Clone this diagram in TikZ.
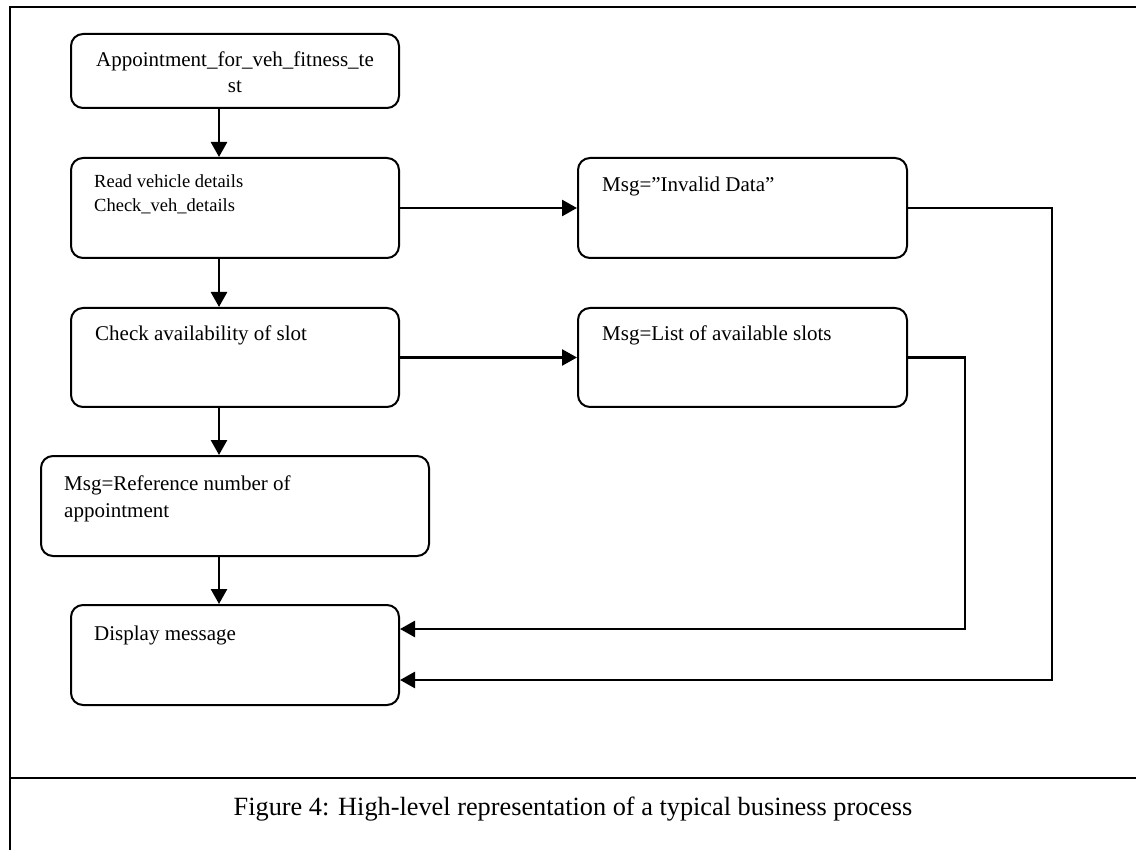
\documentclass[tikz,border=0pt]{standalone}
\usepackage{fontspec}
\setmainfont{Liberation Serif}
\usetikzlibrary{arrows.meta}
\begin{document}
\begin{tikzpicture}[x=1pt,y=-1pt,
  box/.style={draw,line width=2pt,rounded corners=12pt,anchor=north west,inner sep=0pt},
  txt/.style={anchor=base west,inner sep=0pt,font=\fontsize{21}{26}\selectfont},
  small/.style={anchor=base west,inner sep=0pt,font=\fontsize{18.5}{24}\selectfont},
  arr/.style={line width=2.6pt,-{Triangle[length=15pt,width=16pt]}}]
\useasboundingbox (0,0) rectangle (1136,850);
% frame
\draw[line width=2.2pt] (1136,7) -- (10,7) -- (10,850);
\draw[line width=2.2pt] (10,778) -- (1136,778);

% process boxes
\node[box,minimum width=328pt,minimum height=74pt] (A) at (70,33) {};
\node[box,minimum width=328pt,minimum height=100pt] (R) at (70,157) {};
\node[box,minimum width=328pt,minimum height=99pt] (C) at (70,307) {};
\node[box,minimum width=329pt,minimum height=100pt] (MI) at (577,157) {};
\node[box,minimum width=329pt,minimum height=99pt] (ML) at (577,307) {};
\node[box,minimum width=388pt,minimum height=100pt] (F) at (40,455) {};
\node[box,minimum width=328pt,minimum height=100pt] (D) at (70,604) {};

% texts
\node[anchor=base,inner sep=0pt,font=\fontsize{21}{26}\selectfont] (ta1) at (235,67) {Appointment\_for\_veh\_fitness\_te};
\node[anchor=base,inner sep=0pt,font=\fontsize{21}{26}\selectfont] (ta2) at (235,93) {st};
\node[small] (tr1) at (94,188) {Read vehicle details};
\node[small] (tr2) at (94,212) {Check\_veh\_details};
\node[txt] (tc) at (95,341) {Check availability of slot};
\node[txt] (tmi) at (602,192) {Msg=”Invalid Data”};
\node[txt] (tml) at (602,341) {Msg=List of available slots};
\node[txt] (tf1) at (64,490) {Msg=Reference number of};
\node[txt] (tf2) at (64,517) {appointment};
\node[txt] (td) at (94,640) {Display message};
\node[anchor=base,inner sep=0pt,font=\fontsize{26.3}{30}\selectfont] (cap) at (573,815)
  {Figure 4: High-level representation of a typical business process};

% connectors
\coordinate (spine) at (219,0);
\coordinate (inA) at (0,629);
\coordinate (inB) at (0,680);
\coordinate (xL) at (965,0);
\coordinate (xI) at (1052,0);
\draw[arr] (A.south -| spine) -- (R.north -| spine);
\draw[arr] (R.south -| spine) -- (C.north -| spine);
\draw[arr] (C.south -| spine) -- (F.north -| spine);
\draw[arr] (F.south -| spine) -- (D.north -| spine);
\draw[arr] (R.east) -- (MI.west);
\draw[arr] (C.east) -- (ML.west);
\draw[arr] (ML.east) -| (xL |- inA) -- (D.east |- inA);
\draw[arr] (MI.east) -| (xI |- inB) -- (D.east |- inB);
\end{tikzpicture}
\end{document}
